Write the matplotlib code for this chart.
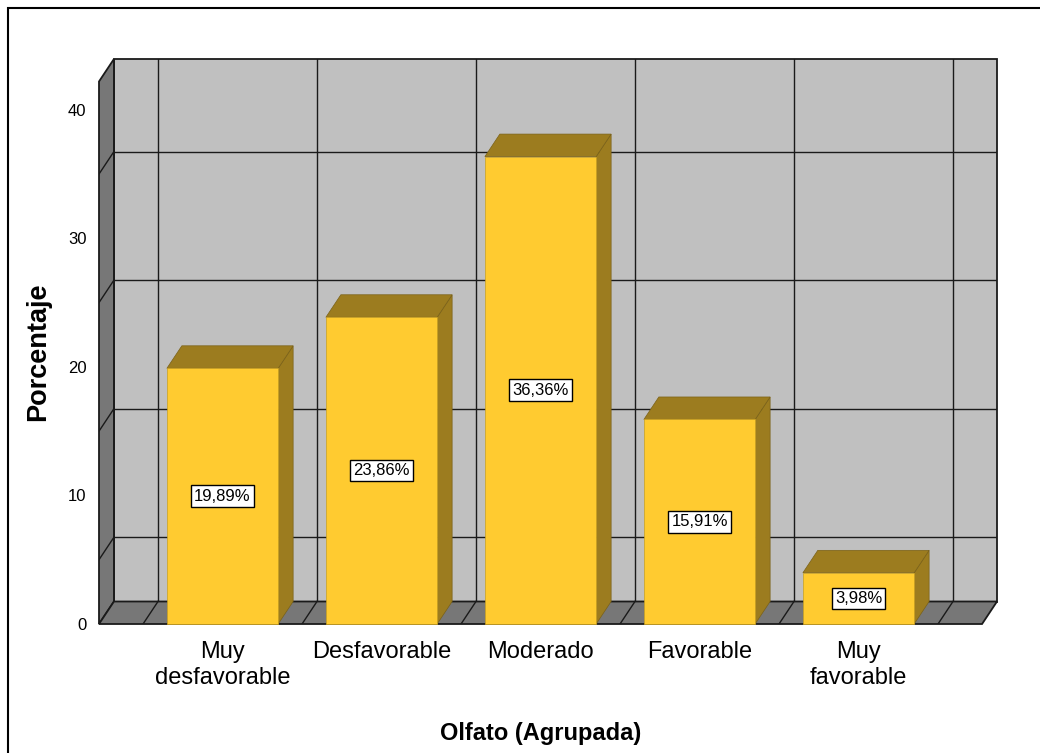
"""
SPSS-style 3D bar chart: Olfato (Agrupada) vs Porcentaje.
"""
import matplotlib
matplotlib.use('Agg')
import matplotlib.pyplot as plt
from matplotlib.patches import Polygon, Rectangle

plt.rcParams['font.family'] = ['Liberation Sans', 'DejaVu Sans']

categories = ['Muy\ndesfavorable', 'Desfavorable', 'Moderado', 'Favorable', 'Muy\nfavorable']
percentages = [19.89, 23.86, 36.36, 15.91, 3.98]
value_labels = ['19,89%', '23,86%', '36,36%', '15,91%', '3,98%']
y_ticks = [0, 10, 20, 30, 40]
grid_levels = [5, 15, 25, 35]

# 3D look
DX, DY = 0.094, 1.75          # depth offset (category units, percent units)
BAR_W = 0.70
X0, X1 = -0.777, 4.777        # front floor extent
Y_TOP = 42.2                  # top of the back wall (back coords)

WALL = '#c0c0c0'
SIDE = '#777777'
FRONT = '#ffcb30'
BAR_DARK = '#9c7c1f'
LINE = '#1a1a1a'

fig = plt.figure(figsize=(10.4, 7.53), dpi=100)
W, H = 1040, 753
ax = fig.add_axes([99 / W, (H - 624) / H, (997 - 99) / W, (624 - 59) / H])
ax.set_xlim(X0, X1 + DX)
ax.set_ylim(0, Y_TOP + DY)
for s in ax.spines.values():
    s.set_visible(False)


def poly(pts, fc, ec=LINE, lw=1.0, z=1):
    ax.add_patch(Polygon(pts, closed=True, facecolor=fc, edgecolor=ec,
                         linewidth=lw, zorder=z, clip_on=False, joinstyle='miter'))


# back wall
poly([(X0 + DX, DY), (X1 + DX, DY), (X1 + DX, Y_TOP + DY), (X0 + DX, Y_TOP + DY)], WALL, lw=1.3)

# back wall grid
n = len(categories)
bounds = [i - 0.5 for i in range(n + 1)]
for b in bounds:
    ax.plot([b + DX, b + DX], [DY, Y_TOP + DY], color=LINE, lw=1.0, zorder=2)
for g in grid_levels:
    ax.plot([X0 + DX, X1 + DX], [g + DY, g + DY], color=LINE, lw=1.0, zorder=2)

# left wall
poly([(X0, 0), (X0 + DX, DY), (X0 + DX, Y_TOP + DY), (X0, Y_TOP)], SIDE, lw=1.3, z=3)
for g in grid_levels:
    ax.plot([X0, X0 + DX], [g, g + DY], color=LINE, lw=1.0, zorder=3)

# floor
poly([(X0, 0), (X0 + DX, DY), (X1 + DX, DY), (X1, 0)], SIDE, lw=1.3, z=3)
for b in bounds:
    ax.plot([b, b + DX], [0, DY], color=LINE, lw=1.0, zorder=3)

# bars
for i, v in enumerate(percentages):
    l, r = i - BAR_W / 2, i + BAR_W / 2
    poly([(r, 0), (r + DX, DY), (r + DX, v + DY), (r, v)], BAR_DARK, ec='#7a6118', lw=0.5, z=5)
    poly([(l, v), (r, v), (r + DX, v + DY), (l + DX, v + DY)], BAR_DARK, ec='#7a6118', lw=0.5, z=5)
    poly([(l, 0), (r, 0), (r, v), (l, v)], FRONT, ec='#c9a020', lw=0.5, z=6)
    ax.text(i, v / 2, value_labels[i], ha='center', va='center', fontsize=12, zorder=7,
            bbox=dict(boxstyle='square,pad=0.2', facecolor='white', edgecolor='black', linewidth=1.0))

ax.set_xticks(range(n))
ax.set_xticklabels(categories, fontsize=17)
ax.set_yticks(y_ticks)
ax.set_yticklabels([str(t) for t in y_ticks], fontsize=12)
ax.tick_params(axis='x', length=0, pad=12.5)
ax.tick_params(axis='y', length=0, pad=9)

ax.text(0.4917, -0.193, 'Olfato (Agrupada)', transform=ax.transAxes, ha='center', va='center',
        fontsize=17, fontweight='bold')
ax.text(-0.068, 0.481, 'Porcentaje', transform=ax.transAxes, ha='center', va='center',
        rotation=90, fontsize=19.5, fontweight='bold')

# outer frame (cut by the image edge on the right and bottom)
fig.add_artist(Rectangle((8 / W, -0.1), 1.2, (H - 8) / H + 0.1, transform=fig.transFigure,
                         fill=False, edgecolor='black', linewidth=1.5, clip_on=False))

plt.savefig('out.png', dpi=100)
plt.close()
